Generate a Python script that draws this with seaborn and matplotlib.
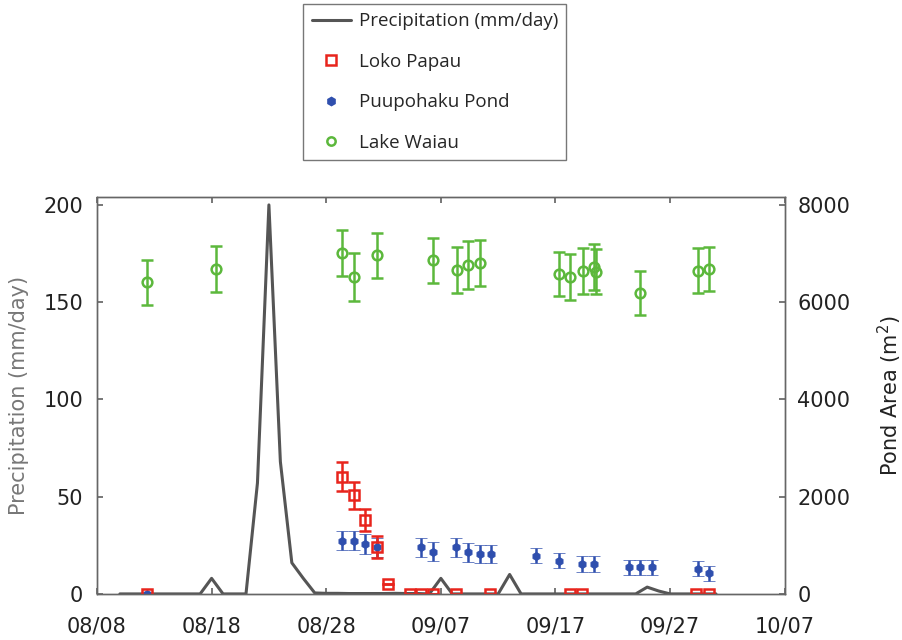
import matplotlib
matplotlib.use("Agg")
import matplotlib.pyplot as plt
from matplotlib.lines import Line2D
import numpy as np
import pandas as pd
import seaborn as sns

# days counted from 08/08
precip_day = [2, 3, 4, 5, 6, 7, 8, 9, 10, 11, 12, 13, 14, 15, 16, 17, 18, 19, 20,
              21, 22, 23, 24, 25, 26, 27, 28, 29, 30, 31, 32, 33, 34, 35, 36, 37,
              38, 39, 40, 41, 42, 43, 44, 45, 46, 47, 48, 49, 50, 51, 52, 53, 54]
precip_mm = [0, 0, 0, 0, 0, 0, 0, 0, 8, 0, 0, 0, 57, 200, 68, 16, 8, 0.5, 0.3,
             0.3, 0.2, 0.2, 0.2, 0.2, 0.3, 0.2, 0.2, 0, 8, 0, 0, 0, 0, 0, 10, 0,
             0, 0, 0, 0, 0, 0, 0, 0, 0, 0, 3.5, 1.5, 0, 0, 0, 0, 0]

loko_day = [4.4, 21.4, 22.4, 23.4, 24.4, 25.4, 27.3, 28.3, 29.3, 31.3, 34.3,
            41.3, 42.3, 52.3, 53.4]
loko_area = [0, 2414, 2031, 1524, 964, 205, 0, 0, 0, 0, 0, 0, 0, 0, 0]
loko_err = [0, 300, 275, 220, 220, 0, 0, 0, 0, 0, 0, 0, 0, 0, 0]

puu_day = [4.4, 21.4, 22.4, 23.4, 24.4, 28.3, 29.3, 31.3, 32.4, 33.4, 34.4,
           38.3, 40.3, 42.3, 43.4, 46.4, 47.4, 48.4, 52.4, 53.4]
puu_area = [0, 1094, 1094, 1025, 957, 957, 870, 957, 855, 820, 820,
            786, 684, 615, 615, 547, 547, 547, 520, 420]
puu_err = [0, 200, 200, 200, 200, 190, 190, 190, 190, 180, 180,
           150, 160, 160, 160, 150, 150, 150, 150, 150]

waiau_day = [4.4, 10.4, 21.4, 22.4, 24.4, 29.3, 31.4, 32.4, 33.4, 40.3, 41.3,
             42.4, 43.4, 43.5, 47.4, 52.4, 53.4]
waiau_area = [6406, 6687, 7009, 6516, 6960, 6858, 6667, 6769, 6804, 6578, 6516,
              6646, 6720, 6630, 6188, 6646, 6680]
waiau_err = [465, 470, 470, 490, 470, 470, 470, 490, 480, 460, 480,
             470, 480, 470, 460, 460, 460]

tick_days = [0, 10, 20, 30, 40, 50, 60]
tick_labels = ["08/08", "08/18", "08/28", "09/07", "09/17", "09/27", "10/07"]

RED = "#e8241c"
BLUE = "#2f4fae"
GREEN = "#5cb83c"
LINE = "#555555"

sns.set_theme(style="white")
plt.rcParams["font.family"] = ["DejaVu Sans"]

fig = plt.figure(figsize=(9.02, 6.4), dpi=100)
ax = fig.add_axes([0.1075, 0.072, 0.7625, 0.62])

precip = pd.DataFrame({"day": precip_day, "precip": precip_mm})
sns.lineplot(data=precip, x="day", y="precip", ax=ax, color=LINE, lw=2.2)

ax2 = ax.twinx()
common = dict(ls="none", elinewidth=1.8, capsize=4.5, capthick=1.8)
ax2.errorbar(waiau_day, waiau_area, yerr=waiau_err, color=GREEN, marker="o",
             ms=7, mfc="none", mew=1.8, **common)
ax2.errorbar(puu_day, puu_area, yerr=puu_err, color=BLUE, marker="h",
             ms=6, mew=0.5, **common)
ax2.errorbar(loko_day, loko_area, yerr=loko_err, color=RED, marker="s",
             ms=7, mfc="none", mew=1.8, **common)

ax.set_xlim(0, 60)
ax.set_ylim(0, 204)
ax2.set_ylim(0, 8160)
ax.set_xticks(tick_days)
ax.set_xticklabels(tick_labels)
ax.set_yticks([0, 50, 100, 150, 200])
ax2.set_yticks([0, 2000, 4000, 6000, 8000])
ax.set_xlabel("")
ax.set_ylabel("Precipitation (mm/day)", color="#777777", fontsize=15, labelpad=10)
ax2.set_ylabel("Pond Area (m$^2$)", color="#222222", fontsize=15, labelpad=18)

ax.tick_params(axis="x", direction="in", length=4, top=True, bottom=True,
               colors="#666666", labelcolor="#222222", pad=16, labelsize=15)
ax.tick_params(axis="y", direction="in", length=4, left=True, right=False,
               colors="#666666", labelcolor="#222222", pad=10, labelsize=15)
ax2.tick_params(axis="y", direction="in", length=4, right=True,
                colors="#666666", labelcolor="#222222", pad=9, labelsize=15)
for a in (ax, ax2):
    for s in a.spines.values():
        s.set_color("#666666")
        s.set_linewidth(1.0)
ax.grid(False)
ax2.grid(False)

handles = [
    Line2D([], [], color=LINE, lw=2.2),
    Line2D([], [], color=RED, marker="s", ls="none", ms=7, mfc="none", mew=1.8),
    Line2D([], [], color=BLUE, marker="h", ls="none", ms=6),
    Line2D([], [], color=GREEN, marker="o", ls="none", ms=6, mfc="none", mew=1.8),
]
labels = ["Precipitation (mm/day)", "Loko Papau", "Puupohaku Pond", "Lake Waiau"]
leg = fig.legend(handles, labels, loc="upper center", bbox_to_anchor=(0.482, 0.994),
                 prop={"family": "Open Sans", "size": 13.5}, frameon=True,
                 fancybox=False, framealpha=1, edgecolor="#777777",
                 labelspacing=1.2, handlelength=2.1, handletextpad=0.4,
                 borderpad=0.45, borderaxespad=0)
leg.get_frame().set_linewidth(1.0)

fig.savefig("out.png", dpi=100)
